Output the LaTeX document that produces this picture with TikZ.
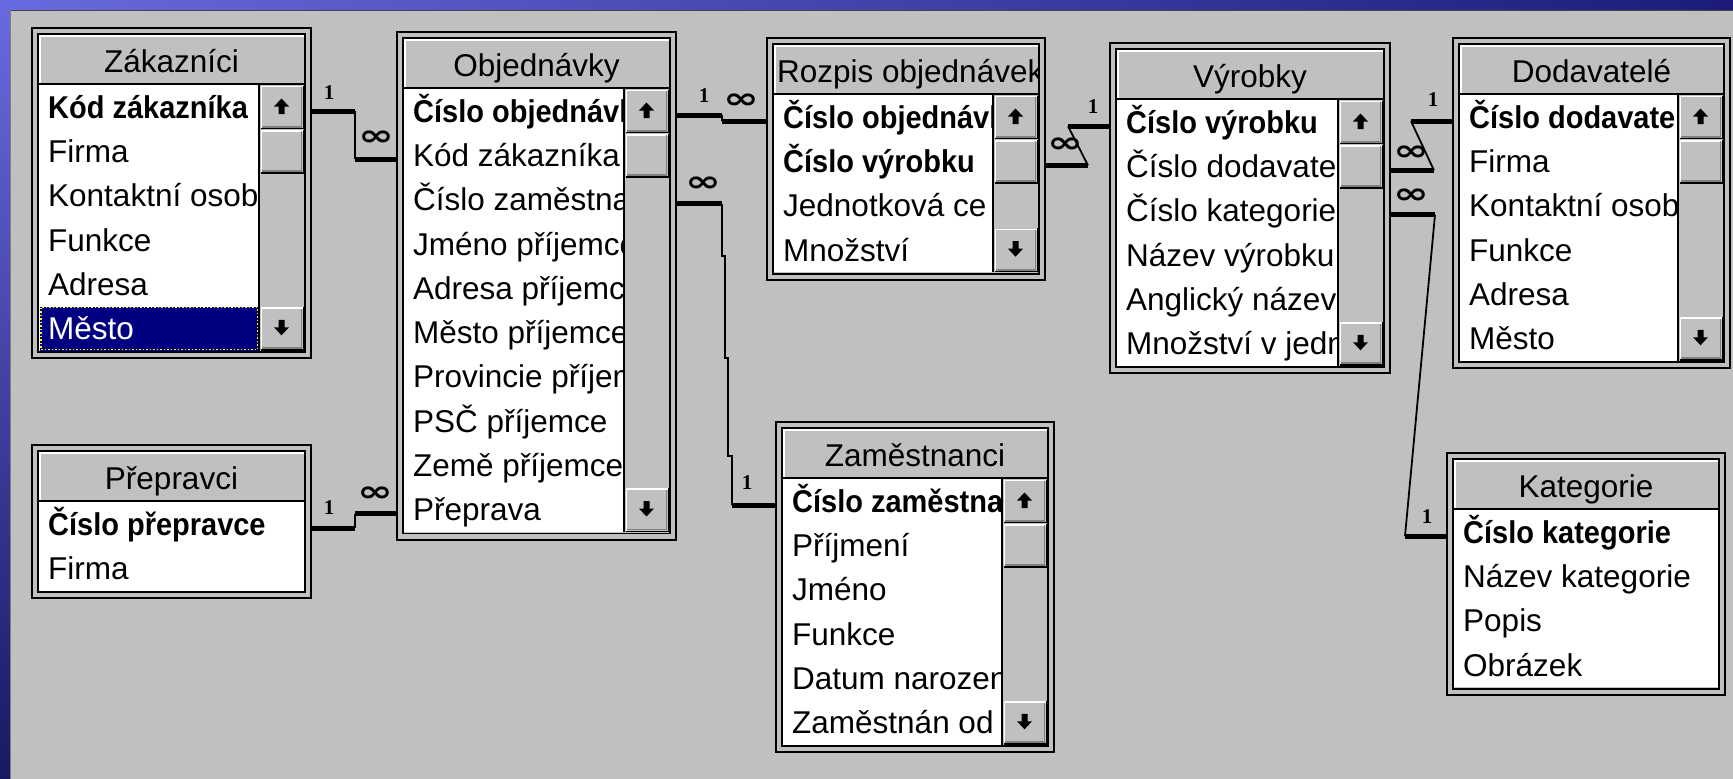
\documentclass[tikz,border=0pt]{standalone}
\usepackage{fontspec}
\setmainfont{Liberation Sans}
\newfontfamily\keyfont{Liberation Sans}[FakeStretch=0.92]
\newfontfamily\cardfont{Liberation Serif}
\newfontfamily\symfont{DejaVu Sans}
\usetikzlibrary{calc}

\definecolor{wingrey}{RGB}{192,192,192}
\definecolor{winshadow}{RGB}{128,128,128}
\definecolor{selnavy}{RGB}{0,0,128}
\definecolor{focusyel}{RGB}{255,255,0}
\definecolor{slideA}{RGB}{106,106,224}
\definecolor{slideB}{RGB}{28,28,120}
\definecolor{slideC}{RGB}{24,24,100}
\definecolor{paneledge}{RGB}{70,70,70}

\tikzset{
  tblouter/.style={draw=black, line width=2pt, fill=wingrey, inner sep=0pt, outer sep=0pt},
  rowtxt/.style={anchor=west, inner sep=0pt, text height=22pt, text depth=0pt,
    font=\fontsize{31.5}{38}\selectfont},
  keytxt/.style={rowtxt, font=\keyfont\bfseries\fontsize{31.5}{38}\selectfont},
  ttltxt/.style={inner sep=0pt, text height=22pt, text depth=0pt,
    font=\fontsize{31.5}{38}\selectfont},
  stub/.style={line width=5pt, line cap=butt},
  link/.style={line width=1.8pt},
  onelbl/.style={inner sep=0pt, font=\cardfont\bfseries\fontsize{21}{21}\selectfont},
  manylbl/.style={inner sep=0pt, font=\symfont\bfseries\fontsize{34}{34}\selectfont},
}
% the "many" end mark, widened like the two rings of the relationship window
\newcommand\many{\scalebox{1.25}[0.85]{∞}}

% row index drawn as the selected (highlighted) record
\newcommand\selrow{0}

% bevelled scroll-bar button
\newcommand\sbbtn[4]{%
  \fill[wingrey] (#1,#2) rectangle (#3,#4);
  \draw[white, line width=1.8pt] (#1+1.5,#4-1.5) -- (#1+1.5,#2+1.5) -- (#3-1.5,#2+1.5);
  \draw[winshadow, line width=1.8pt] (#1+2,#4-2.6) -- (#3-2.6,#4-2.6) -- (#3-2.6,#2+2);
  \draw[black, line width=1.4pt] (#1+0.5,#4-0.7) -- (#3-0.7,#4-0.7) -- (#3-0.7,#2+0.5);
}
\newcommand\arrowup[2]{%
  \fill[black] (#1-7.5,#2+0.5) -- (#1,#2-7.5) -- (#1+7.5,#2+0.5) -- (#1+3,#2+0.5)
    -- (#1+3,#2+8) -- (#1-3,#2+8) -- (#1-3,#2+0.5) -- cycle;}
\newcommand\arrowdown[2]{%
  \fill[black] (#1-7.5,#2-0.5) -- (#1,#2+7.5) -- (#1+7.5,#2-0.5) -- (#1+3,#2-0.5)
    -- (#1+3,#2-8) -- (#1-3,#2-8) -- (#1-3,#2-0.5) -- cycle;}

% field list window: [title c/l]{name}{left}{top}{right}{title}{key rows}{scroll bar 1/0}{fields}
\newcommand\dbtable[9][c]{%
  \foreach \f [count=\n] in {#9} {\xdef\nrows{\n}}%
  \pgfmathsetmacro\tL{#3}\pgfmathsetmacro\tT{#4}\pgfmathsetmacro\tR{#5}%
  \pgfmathsetmacro\tW{#5-#3}%
  \pgfmathsetmacro\lB{#4+57+44.3*\nrows}%
  \pgfmathsetmacro\tB{\lB+7.5}%
  \pgfmathsetmacro\tH{\tB-#4}%
  \ifnum#8=1\relax\pgfmathsetmacro\lR{#5-52}\else\pgfmathsetmacro\lR{#5-7}\fi
  \node[tblouter, anchor=north west, minimum width=\tW pt, minimum height=\tH pt] (#2) at (\tL,\tT) {};
  \draw[line width=1.8pt] (\tL+6,\tT+6) rectangle (\tR-6,\tB-6);
  \draw[white, line width=1.5pt] (\tL+7.75,\tT+54.5) -- (\tL+7.75,\tT+7.75) -- (\tR-7,\tT+7.75);
  \draw[line width=2pt] (\tL+7,\tT+56) -- (\tR-7,\tT+56);
  \fill[white] (\tL+7,\tT+57) rectangle (\lR,\lB);
  \begin{scope}
    \clip (\tL+8.5,\tT+8.5) rectangle (\tR-7,\tT+55);
    \if#1c\relax
      \node[ttltxt] (#2-title) at ({(\tL+\tR)/2},\tT+33) {#6};
    \else
      \node[ttltxt, anchor=west] (#2-title) at (\tL+10,\tT+33) {#6};
    \fi
  \end{scope}
  \begin{scope}
    \clip (\tL+7,\tT+57) rectangle (\lR,\lB);
    \foreach \f [count=\i] in {#9} {%
      \pgfmathsetmacro\rc{\tT+79.15+44.3*(\i-1)}%
      \ifnum\i=\selrow\relax
        \fill[selnavy] (\tL+8,\rc-22.15) rectangle (\lR,\rc+22.15);
        \draw[focusyel, dotted, line width=1.5pt] (\tL+9,\rc-21) rectangle (\lR-1.5,\rc+21);
        \node[rowtxt, text=white] (#2\i) at (\tL+16,\rc) {\f};
      \else\ifnum\i>#7\relax
        \node[rowtxt] (#2\i) at (\tL+16,\rc) {\f};
      \else
        \node[keytxt] (#2\i) at (\tL+16,\rc) {\f};
      \fi\fi
    }%
  \end{scope}
  \ifnum#8=1\relax
    \pgfmathsetmacro\sR{\tR-7}%
    \pgfmathsetmacro\sx{(\lR+\sR)/2}%
    \fill[wingrey] (\lR,\tT+57) rectangle (\sR,\lB);
    \draw[black, line width=1.5pt] (\lR+0.2,\tT+57) -- (\lR+0.2,\lB);
    \sbbtn{\lR+1}{\tT+57}{\sR}{\tT+101.3}
    \sbbtn{\lR+1}{\tT+101.3}{\sR}{\tT+145.6}
    \sbbtn{\lR+1}{\lB-44.3}{\sR}{\lB}
    \arrowup{\sx}{\tT+78}
    \arrowdown{\sx}{\lB-23}
  \fi
}

\begin{document}
\begin{tikzpicture}[x=1pt,y=-1pt]
\useasboundingbox (0,0) rectangle (1733,779);

% slide background with its blue border strips
\fill[wingrey] (0,0) rectangle (1733,779);
\shade[left color=slideA, right color=slideB] (0,0) rectangle (1733,10);
\shade[top color=slideA, bottom color=slideC] (0,0) rectangle (10,779);
\draw[paneledge, line width=1.2pt] (10,10.6) -- (1733,10.6);
\draw[winshadow, line width=1.2pt] (10.6,10) -- (10.6,779);

% tables
\renewcommand\selrow{6}
\dbtable{zak}{32}{28}{311}{Zákazníci}{1}{1}{Kód zákazníka,Firma,Kontaktní osob,Funkce,Adresa,Město}
\renewcommand\selrow{0}
\dbtable{obj}{397}{32}{676}{Objednávky}{1}{1}{Číslo objednávk,Kód zákazníka,Číslo zaměstna,Jméno příjemce,Adresa příjemc,Město příjemce,Provincie příjem,PSČ příjemce,Země příjemce,Přeprava}
\dbtable[l]{roz}{767}{38}{1045}{Rozpis objednávek}{2}{1}{Číslo objednávk,Číslo výrobku,Jednotková ce,Množství}
\dbtable{vyr}{1110}{43}{1390}{Výrobky}{1}{1}{Číslo výrobku,Číslo dodavate,Číslo kategorie,Název výrobku,Anglický název,Množství v jedn}
\dbtable{dod}{1453}{38}{1730}{Dodavatelé}{1}{1}{Číslo dodavate,Firma,Kontaktní osob,Funkce,Adresa,Město}
\dbtable{zam}{776}{422}{1054}{Zaměstnanci}{1}{1}{Číslo zaměstna,Příjmení,Jméno,Funkce,Datum narozen,Zaměstnán od}
\dbtable{kat}{1447}{453}{1725}{Kategorie}{1}{0}{Číslo kategorie,Název kategorie,Popis,Obrázek}
\dbtable{prep}{32}{445}{311}{Přepravci}{1}{0}{Číslo přepravce,Firma}

% relationships: thick stubs at the tables, thin joining lines
\draw[stub] ($(zak.east|-zak1)+(0,4)$) -- ++(44,0) coordinate (zo1);
\draw[stub] ($(obj.west|-obj2)+(0,4)$) -- ++(-42,0) coordinate (zo2);
\draw[link] (zo1) -- (zo2);
\node[onelbl] (zo-one) at (329,93) {1};
\node[manylbl] (zo-many) at (376,138) {\many};

\draw[stub] ($(prep.east|-prep1)+(0,4)$) -- ++(44,0) coordinate (po1);
\draw[stub] ($(obj.west|-obj10)+(0,4)$) -- ++(-42,0) coordinate (po2);
\draw[link] (po1) -- (po2);
\node[onelbl] (po-one) at (329,508) {1};
\node[manylbl] (po-many) at (375,494) {\many};

\draw[stub] ($(obj.east|-obj1)+(0,4)$) -- ++(46,0) coordinate (or1);
\draw[stub] ($(roz.west|-roz1)+(0,4)$) -- ++(-45,0) coordinate (or2);
\draw[link] (or1) -- (or2);
\node[onelbl] (or-one) at (704,96) {1};
\node[manylbl] (or-many) at (741,101) {\many};

\draw[stub] ($(obj.east|-obj3)+(0,4)$) -- ++(46,0) coordinate (oz1);
\draw[stub] ($(zam.west|-zam1)+(0,4)$) -- ++(-44,0) coordinate (oz2);
\draw[link] (oz1) -- ++(0,52) -- ++(3,0) -- ++(0,102) -- ++(3,0) -- ++(0,98) -- ++(4,0) |- (oz2);
\node[manylbl] (oz-many) at (703,184) {\many};
\node[onelbl] (oz-one) at (747,483) {1};

\draw[stub] ($(roz.east|-roz2)+(0,4)$) -- ++(43,0) coordinate (rv1);
\draw[stub] ($(vyr.west|-vyr1)+(0,4)$) -- ++(-42,0) coordinate (rv2);
\draw[link] (rv1) -- (rv2);
\node[manylbl] (rv-many) at (1065,145) {\many};
\node[onelbl] (rv-one) at (1093,107) {1};

\draw[stub] ($(vyr.east|-vyr2)+(0,4)$) -- ++(44,0) coordinate (vd1);
\draw[stub] ($(dod.west|-dod1)+(0,4)$) -- ++(-42,0) coordinate (vd2);
\draw[link] (vd1) -- (vd2);
\node[manylbl] (vd-many) at (1411,153) {\many};
\node[onelbl] (vd-one) at (1433,100) {1};

\draw[stub] ($(vyr.east|-vyr3)+(0,4)$) -- ++(45,0) coordinate (vk1);
\draw[stub] ($(kat.west|-kat1)+(0,4)$) -- ++(-42,0) coordinate (vk2);
\draw[link] (vk1) -- (vk2);
\node[manylbl] (vk-many) at (1411,196) {\many};
\node[onelbl] (vk-one) at (1427,517) {1};
\end{tikzpicture}
\end{document}
